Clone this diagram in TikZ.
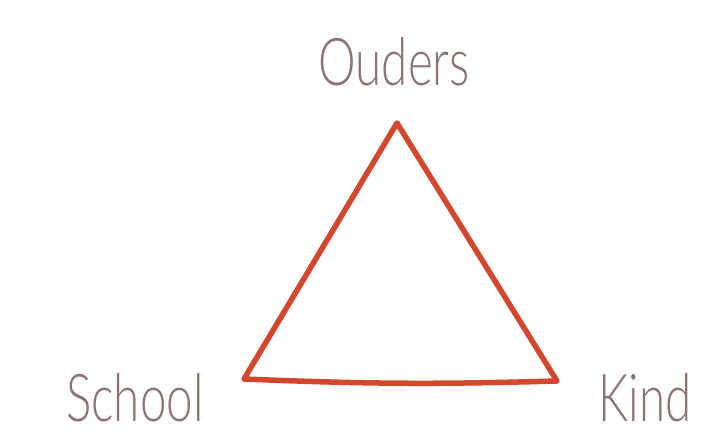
\documentclass[tikz,border=0pt]{standalone}
\usepackage{fontspec}
\usepackage{xcolor}
\usepackage{tikz}
\usetikzlibrary{positioning}
\newfontfamily\handfont[FakeStretch=0.72]{Lato Light}
\definecolor{labelcolor}{HTML}{8A7372}
\definecolor{edgecolor}{HTML}{D2472E}

\begin{document}
\begin{tikzpicture}[
    x=1pt, y=-1pt,
    corner/.style={font=\handfont\fontsize{66}{70}\selectfont, text=labelcolor, anchor=base, inner sep=0pt},
    edge/.style={draw=edgecolor, line width=5.5pt, line join=round, line cap=round}
]
    \useasboundingbox (0,0) rectangle (704,441);

    % Triangle corners
    \coordinate (top) at (397,123);
    \coordinate (left) at (244,379);
    \coordinate (right) at (557,381);

    % Labels
    \node[corner] (ouders) at (394,86) {Ouders};
    \node[corner] (school) at (135,421) {School};
    \node[corner] (kind) at (645,421) {Kind};

    \draw[edge] (top) -- (left) to[bend right=2] (right) -- cycle;
\end{tikzpicture}
\end{document}
